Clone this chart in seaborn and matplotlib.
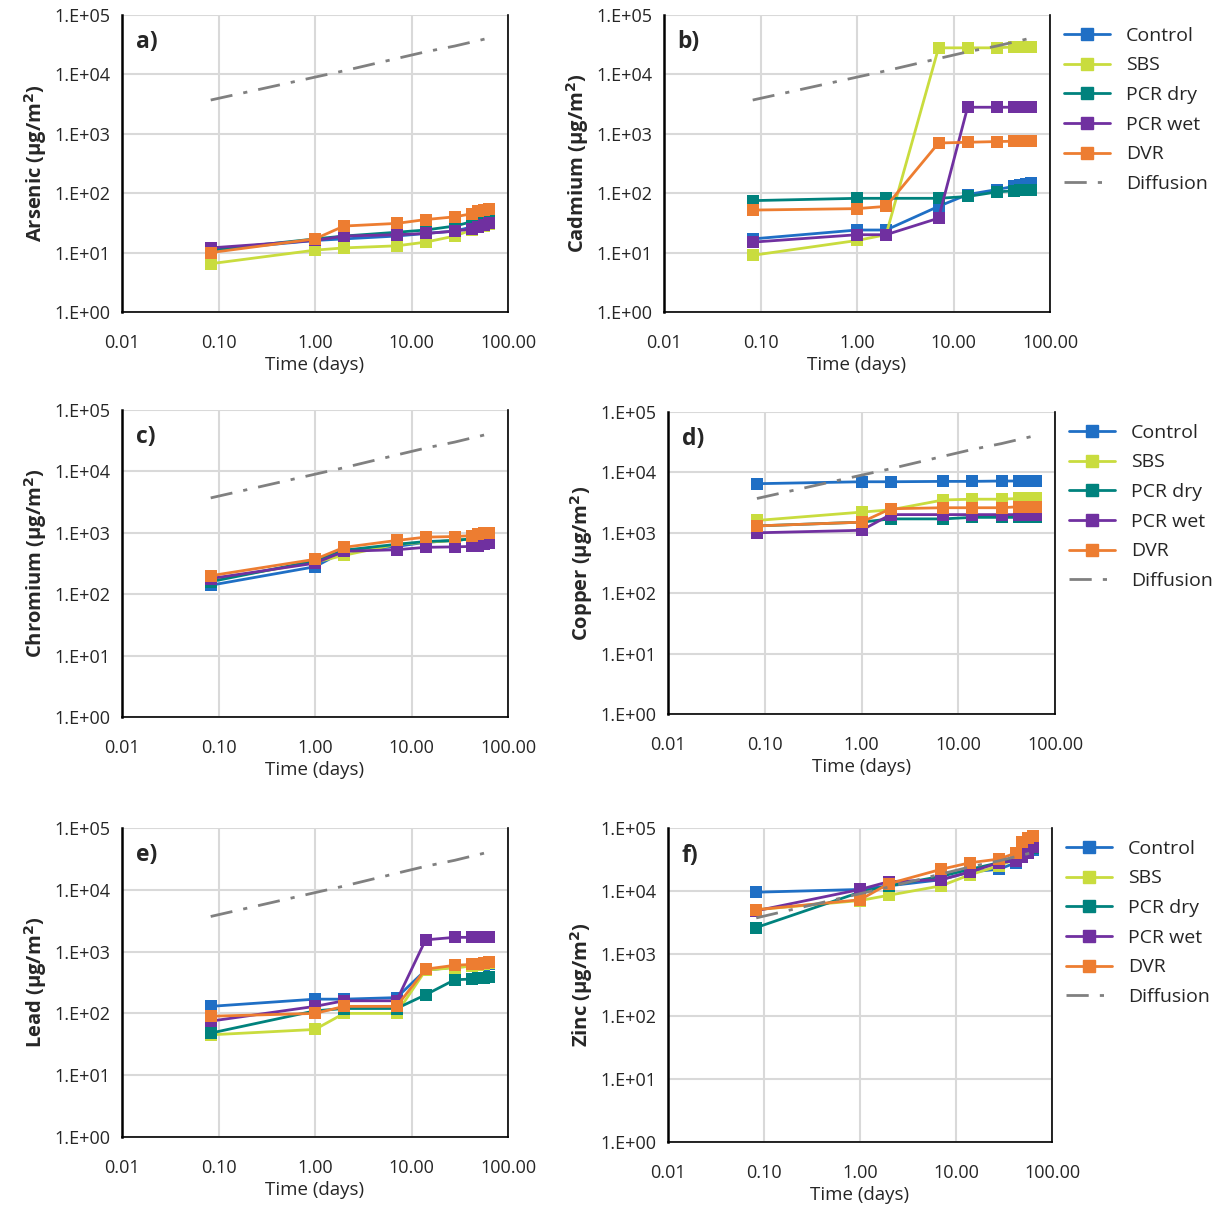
import numpy as np
import pandas as pd
import matplotlib
matplotlib.use("Agg")
import matplotlib.pyplot as plt
import seaborn as sns
from matplotlib.ticker import FixedLocator, NullFormatter, LogLocator

# ─── Data ───────────────────────────────────────────────────────────────────
days = [0.083, 1, 2, 7, 14, 28, 42, 49, 56, 63]
treatments = ["Control", "SBS", "PCR dry", "PCR wet", "DVR"]
diffusion = [3700, 9000, 11500, 18500, 24000, 30000, 35000, 37000, 39000, 41000]

arsenic = {
    "Control": [11, 16, 17, 19, 21, 23, 27, 30, 33, 36],
    "SBS":     [6.5, 11, 12, 13, 15, 19, 24, 27, 28, 30],
    "PCR dry": [11, 17, 19, 22, 24, 28, 33, 35, 38, 40],
    "PCR wet": [12, 16, 19, 20, 21, 23, 25, 27, 29, 31],
    "DVR":     [10, 17, 28, 31, 36, 40, 45, 50, 53, 55],
}
cadmium = {
    "Control": [17, 24, 24, 60, 95, 115, 130, 140, 145, 150],
    "SBS":     [9, 16, 20, 28000, 28000, 28000, 29000, 29000, 29000, 29000],
    "PCR dry": [75, 82, 82, 82, 88, 105, 110, 112, 115, 115],
    "PCR wet": [15, 20, 20, 38, 2800, 2800, 2800, 2800, 2800, 2800],
    "DVR":     [52, 55, 60, 700, 720, 740, 750, 750, 750, 750],
}
chromium = {
    "Control": [140, 280, 500, 600, 700, 750, 800, 850, 900, 950],
    "SBS":     [170, 330, 430, 650, 700, 750, 800, 850, 900, 950],
    "PCR dry": [160, 350, 520, 650, 720, 750, 800, 820, 850, 900],
    "PCR wet": [180, 320, 500, 530, 580, 590, 600, 620, 650, 680],
    "DVR":     [200, 370, 580, 750, 850, 870, 900, 950, 980, 1000],
}
copper = {
    "Control": [6500, 7000, 7000, 7100, 7100, 7200, 7200, 7300, 7300, 7300],
    "SBS":     [1600, 2200, 2400, 3500, 3600, 3600, 3700, 3700, 3700, 3700],
    "PCR dry": [1300, 1500, 1700, 1700, 1800, 1800, 1800, 1800, 1800, 1800],
    "PCR wet": [1000, 1100, 2000, 2000, 2000, 2000, 2000, 2000, 2000, 2000],
    "DVR":     [1300, 1500, 2500, 2600, 2600, 2600, 2700, 2700, 2700, 2700],
}
lead = {
    "Control": [130, 170, 170, 180, 500, 560, 580, 600, 600, 620],
    "SBS":     [45, 55, 100, 100, 500, 550, 580, 600, 620, 650],
    "PCR dry": [48, 110, 120, 120, 200, 350, 360, 370, 380, 390],
    "PCR wet": [75, 130, 160, 160, 1550, 1700, 1700, 1700, 1700, 1700],
    "DVR":     [90, 100, 130, 130, 520, 600, 620, 630, 650, 670],
}
zinc = {
    "Control": [9500, 10500, 12000, 15000, 20000, 22000, 28000, 35000, 40000, 45000],
    "SBS":     [5000, 7000, 8500, 12000, 18000, 25000, 32000, 40000, 50000, 60000],
    "PCR dry": [2600, 9500, 12000, 17000, 22000, 28000, 33000, 38000, 42000, 48000],
    "PCR wet": [4800, 10500, 14000, 15000, 20000, 28000, 30000, 35000, 40000, 50000],
    "DVR":     [5000, 7200, 13000, 22000, 28000, 32000, 40000, 60000, 70000, 75000],
}

panels = [
    ("a)", "Arsenic", arsenic),
    ("b)", "Cadmium", cadmium),
    ("c)", "Chromium", chromium),
    ("d)", "Copper", copper),
    ("e)", "Lead", lead),
    ("f)", "Zinc", zinc),
]

# ─── Style ──────────────────────────────────────────────────────────────────
COLORS = {
    "Control": "#1f6fc5",
    "SBS":     "#c9dc3e",
    "PCR dry": "#00827d",
    "PCR wet": "#7030a0",
    "DVR":     "#ed7d31",
}
sns.set_style("white")
plt.rcParams["font.family"] = ["Open Sans", "DejaVu Sans"]

W, H = 1225, 1220
# axes rectangles in pixels: left, top, right, bottom
boxes = [
    (122, 15, 508, 312), (664, 15, 1050, 312),
    (122, 410, 508, 717), (668, 412, 1055, 714),
    (122, 828, 508, 1137), (668, 828, 1052, 1142),
]

fig = plt.figure(figsize=(W / 100, H / 100), dpi=100)

for i, ((tag, metal, series), (l, t, r, b)) in enumerate(zip(panels, boxes)):
    ax = fig.add_axes([l / W, 1 - b / H, (r - l) / W, (b - t) / H])
    df = pd.DataFrame(
        [(d, tr, v) for tr in treatments for d, v in zip(days, series[tr])],
        columns=["Time", "Treatment", "Value"],
    )
    sns.lineplot(data=df, x="Time", y="Value", hue="Treatment", palette=COLORS,
                 hue_order=treatments, marker="s", markersize=9, markeredgewidth=0,
                 linewidth=2, ax=ax, legend=False)
    ax.plot(days, diffusion, color="#808080", linestyle=(0, (8, 4, 1.5, 4)),
            linewidth=2, label="Diffusion")
    ax.set_xscale("log")
    ax.set_yscale("log")
    ax.set_xlim(0.01, 100)
    ax.set_ylim(1, 1e5)
    ax.xaxis.set_major_locator(FixedLocator([0.01, 0.1, 1, 10, 100]))
    ax.set_xticklabels(["0.01", "0.10", "1.00", "10.00", "100.00"])
    ax.xaxis.set_minor_formatter(NullFormatter())
    ax.yaxis.set_major_locator(FixedLocator([1, 10, 100, 1e3, 1e4, 1e5]))
    ax.set_yticklabels(["1.E+00", "1.E+01", "1.E+02", "1.E+03", "1.E+04", "1.E+05"])
    ax.yaxis.set_minor_locator(LogLocator(base=10, subs=np.arange(2, 10), numticks=20))
    ax.yaxis.set_minor_formatter(NullFormatter())
    ax.xaxis.set_minor_locator(LogLocator(base=10, subs=np.arange(2, 10), numticks=20))
    ax.tick_params(axis="x", which="minor", length=0)
    ax.tick_params(axis="y", which="major", direction="in", length=6, width=1.5,
                   labelsize=13, pad=8)
    ax.tick_params(axis="y", which="minor", direction="in", length=4, width=1.5)
    ax.tick_params(axis="x", which="major", length=0, labelsize=13, pad=16)
    ax.grid(True, which="major", color="#d9d9d9", linewidth=1.5)
    ax.spines["top"].set_visible(False)
    ax.spines["left"].set_color("black")
    ax.spines["left"].set_linewidth(1.8)
    ax.spines["bottom"].set_color("black")
    ax.spines["bottom"].set_linewidth(1.2)
    ax.spines["right"].set_color("black")
    ax.spines["right"].set_linewidth(1.2)
    ax.set_xlabel("Time (days)", fontsize=13.5, labelpad=3)
    ax.set_ylabel(f"{metal} (µg/m$^{{\\mathbf{{2}}}}$)", fontsize=14.5, fontweight="bold")
    ax.text(0.035, 0.95, tag, transform=ax.transAxes, fontsize=16.5,
            fontweight="bold", va="top", ha="left")

    if i % 2 == 1:
        handles = [plt.Line2D([], [], color=COLORS[tr], marker="s", markersize=8,
                              linewidth=2) for tr in treatments]
        handles.append(plt.Line2D([], [], color="#808080",
                                  linestyle=(0, (8, 4, 1.5, 4)), linewidth=2))
        ax.legend(handles, treatments + ["Diffusion"], loc="upper left",
                  bbox_to_anchor=(1.005, 1.0), frameon=False, fontsize=14,
                  handlelength=2.4, labelspacing=0.6, borderaxespad=0.2)

fig.savefig("out.png", dpi=100)
